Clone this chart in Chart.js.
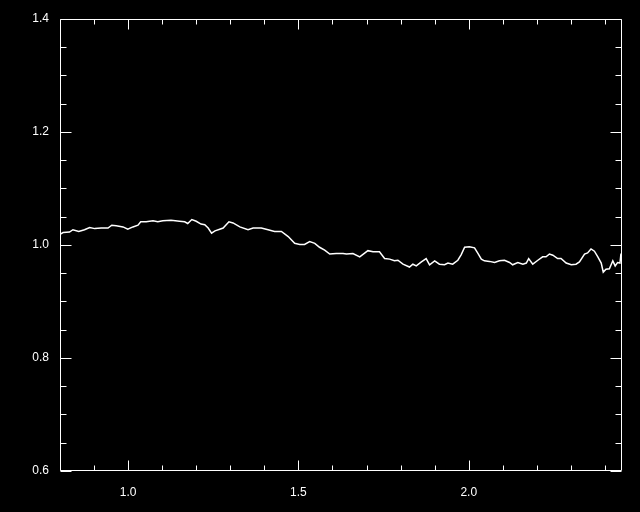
<!DOCTYPE html>
<html>
<head>
<meta charset="utf-8">
<script src="https://cdn.jsdelivr.net/npm/chart.js@4.4.0/dist/chart.umd.min.js"></script>
<style>
  html, body { margin: 0; padding: 0; background: #000; }
  #chart { display: block; }
</style>
</head>
<body>
<canvas id="chart" width="640" height="512"></canvas>
<script>
// Dados (x = comprimento de onda, y = fluxo normalizado)
const wavelength = [
    0.800, 0.809, 0.828, 0.838, 0.855, 0.872, 0.887, 0.902, 0.921, 0.941,
    0.952, 0.965, 0.985, 0.999, 1.014, 1.029, 1.037, 1.053, 1.073, 1.087,
    1.102, 1.126, 1.151, 1.166, 1.175, 1.187, 1.200, 1.214, 1.225, 1.235,
    1.245, 1.255, 1.269, 1.279, 1.296, 1.308, 1.328, 1.352, 1.367, 1.391,
    1.411, 1.430, 1.450, 1.470, 1.489, 1.504, 1.518, 1.533, 1.548, 1.562,
    1.577, 1.592, 1.611, 1.631, 1.641, 1.660, 1.680, 1.704, 1.719, 1.738,
    1.753, 1.768, 1.782, 1.792, 1.807, 1.826, 1.836, 1.846, 1.861, 1.875,
    1.885, 1.900, 1.914, 1.929, 1.939, 1.953, 1.968, 1.978, 1.988, 2.002,
    2.017, 2.027, 2.037, 2.046, 2.061, 2.076, 2.090, 2.105, 2.120, 2.129,
    2.144, 2.159, 2.169, 2.176, 2.188, 2.203, 2.217, 2.227, 2.237, 2.247,
    2.261, 2.271, 2.286, 2.301, 2.315, 2.325, 2.340, 2.349, 2.359, 2.369,
    2.379, 2.389, 2.395, 2.403, 2.413, 2.423, 2.430, 2.437, 2.444, 2.447
];
const flux = [
    1.019, 1.022, 1.023, 1.027, 1.024, 1.027, 1.031, 1.029, 1.030, 1.030,
    1.035, 1.034, 1.032, 1.028, 1.032, 1.035, 1.041, 1.041, 1.043, 1.041,
    1.043, 1.044, 1.042, 1.041, 1.038, 1.045, 1.042, 1.037, 1.036, 1.030,
    1.021, 1.025, 1.028, 1.030, 1.041, 1.039, 1.032, 1.027, 1.030, 1.030,
    1.027, 1.024, 1.024, 1.015, 1.003, 1.001, 1.001, 1.006, 1.003, 0.996,
    0.991, 0.984, 0.985, 0.985, 0.984, 0.985, 0.979, 0.990, 0.988, 0.988,
    0.976, 0.975, 0.972, 0.973, 0.966, 0.961, 0.966, 0.963, 0.970, 0.976,
    0.965, 0.972, 0.966, 0.965, 0.968, 0.966, 0.973, 0.983, 0.996, 0.997,
    0.995, 0.985, 0.975, 0.972, 0.971, 0.969, 0.972, 0.973, 0.969, 0.965,
    0.969, 0.966, 0.968, 0.976, 0.966, 0.973, 0.979, 0.979, 0.984, 0.982,
    0.976, 0.976, 0.968, 0.965, 0.966, 0.970, 0.984, 0.986, 0.993, 0.989,
    0.979, 0.968, 0.952, 0.957, 0.958, 0.972, 0.963, 0.969, 0.968, 0.985
];
const xTickLabels = [1.0, 1.5, 2.0];
const yTickLabels = [0.6, 0.8, 1.0, 1.2, 1.4];
const xMinorStep = 0.1;
const yMinorStep = 0.05;

// Moldura com marcas para dentro nos quatro lados (estilo IDL)
const frameTicks = {
    id: 'frameTicks',
    afterDraw(chart) {
        const { ctx, chartArea: a, scales: { x, y } } = chart;
        const L = Math.round(a.left) + 0.5, R = Math.round(a.right) - 0.5;
        const T = Math.round(a.top) + 0.5, B = Math.round(a.bottom) - 0.5;
        ctx.save();
        ctx.strokeStyle = '#fff';
        ctx.lineWidth = 1;
        ctx.beginPath();
        ctx.rect(L, T, R - L, B - T);

        for (let i = Math.ceil(x.min / xMinorStep - 1e-6); i * xMinorStep <= x.max + 1e-6; i++) {
            const v = i * xMinorStep;
            const major = xTickLabels.some(t => Math.abs(t - v) < 1e-6);
            const len = major ? 10 : 5;
            const px = Math.round(x.getPixelForValue(v)) + 0.5;
            ctx.moveTo(px, B); ctx.lineTo(px, B - len);
            ctx.moveTo(px, T); ctx.lineTo(px, T + len);
        }
        for (let i = Math.ceil(y.min / yMinorStep - 1e-6); i * yMinorStep <= y.max + 1e-6; i++) {
            const v = i * yMinorStep;
            const major = yTickLabels.some(t => Math.abs(t - v) < 1e-6);
            const len = major ? 11 : 6;
            const py = Math.round(y.getPixelForValue(v)) + 0.5;
            ctx.moveTo(L, py); ctx.lineTo(L + len, py);
            ctx.moveTo(R, py); ctx.lineTo(R - len, py);
        }
        ctx.stroke();
        ctx.restore();
    }
};

const tickFont = { family: '"Liberation Sans", Arial, sans-serif', size: 12 };

const ctx = document.getElementById('chart').getContext('2d');
new Chart(ctx, {
    type: 'line',
    data: {
        datasets: [{
            data: wavelength.map((w, i) => ({ x: w, y: flux[i] })),
            borderColor: '#fff',
            borderWidth: 1.5,
            pointRadius: 0,
            tension: 0,
            fill: false
        }]
    },
    options: {
        responsive: false,
        animation: false,
        layout: { padding: { top: 19, right: 18, left: 0, bottom: 0 } },
        plugins: {
            legend: { display: false },
            tooltip: { enabled: false }
        },
        scales: {
            x: {
                type: 'linear',
                min: 0.8,
                max: 2.45,
                grid: { display: false },
                border: { display: false },
                afterBuildTicks: s => { s.ticks = xTickLabels.map(v => ({ value: v })); },
                afterFit: s => { s.height = 41; },
                ticks: {
                    color: '#fff',
                    font: tickFont,
                    padding: 6,
                    maxRotation: 0,
                    autoSkip: false,
                    callback: v => v.toFixed(1)
                }
            },
            y: {
                type: 'linear',
                min: 0.6,
                max: 1.4,
                grid: { display: false },
                border: { display: false },
                afterBuildTicks: s => { s.ticks = yTickLabels.map(v => ({ value: v })); },
                afterFit: s => { s.width = 60; },
                ticks: {
                    color: '#fff',
                    font: tickFont,
                    padding: 3,
                    autoSkip: false,
                    callback: v => v.toFixed(1)
                }
            }
        }
    },
    plugins: [frameTicks]
});
</script>
</body>
</html>
